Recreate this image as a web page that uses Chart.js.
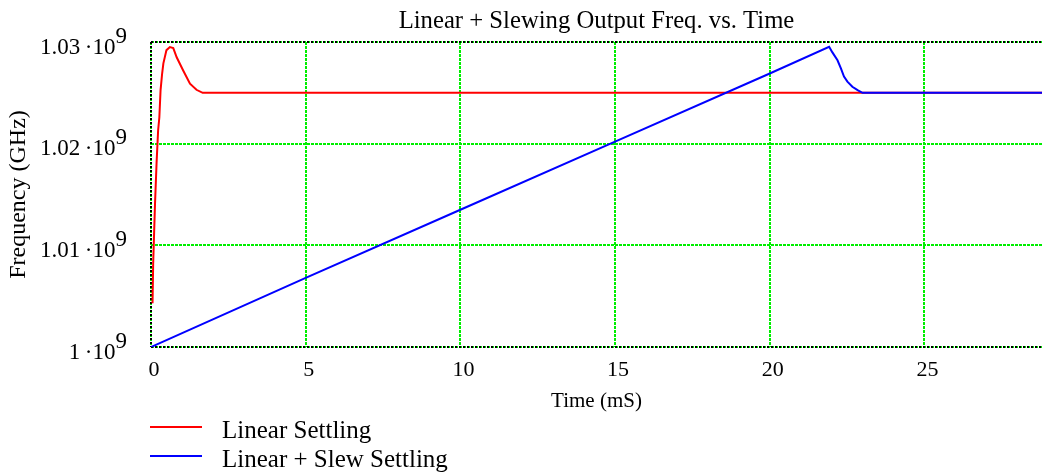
<!DOCTYPE html>
<html>
<head>
<meta charset="utf-8">
<script src="https://cdn.jsdelivr.net/npm/chart.js@4.4.1/dist/chart.umd.min.js"></script>
<style>
  html, body { margin: 0; padding: 0; background: #ffffff; }
  #wrap { width: 1042px; height: 474px; position: relative; }
</style>
</head>
<body>
<div id="wrap"><canvas id="c" width="1042" height="474"></canvas></div>
<script>
// Linear settling response: time (ms) and output frequency (Hz)
const timeLinear = [0.05, 0.07, 0.13, 0.18, 0.23, 0.27, 0.31, 0.36, 0.40, 0.50, 0.61, 0.72, 0.83, 1.04, 1.26, 1.47, 1.67, 28.8];
const freqLinear = [1.0043e9, 1.0082e9, 1.0141e9, 1.0181e9, 1.0213e9, 1.0226e9, 1.0253e9, 1.0269e9, 1.0279e9, 1.0292e9, 1.0295e9, 1.0294e9, 1.0285e9, 1.0272e9, 1.0259e9, 1.0253e9, 1.0250e9, 1.0250e9];

// Linear + slew settling response: time (ms) and output frequency (Hz)
const timeSlew = [0, 5, 10, 15, 20, 21.92, 22.02, 22.19, 22.30, 22.40, 22.51, 22.67, 22.84, 22.94, 23.0, 28.8];
const freqSlew = [1.0000e9, 1.0068e9, 1.0135e9, 1.0202e9, 1.0269e9, 1.02953e9, 1.0290e9, 1.0282e9, 1.0274e9, 1.0266e9, 1.0261e9, 1.0256e9, 1.02527e9, 1.0251e9, 1.0250e9, 1.0250e9];

// Axis ticks
const xTicks = [0, 5, 10, 15, 20, 25];
const yTicks = [1.00e9, 1.01e9, 1.02e9, 1.03e9];
const yTickMantissa = ['1', '1.01', '1.02', '1.03'];
const yTickExponent = '9';

// Texts
const seriesNames = ['Linear Settling', 'Linear + Slew Settling'];
const chartTitle = 'Linear + Slewing Output Freq. vs. Time';
const xTitle = 'Time (mS)';
const yTitle = 'Frequency (GHz)';

const SERIF = "'Liberation Serif', 'Times New Roman', Times, serif";
const GRID_GREEN = '#00ee00';

const toPoints = (xs, ys) => xs.map((x, i) => ({ x: x, y: ys[i] }));

// Title, y tick labels (with raised exponent), legend and dotted frame
const decorations = {
  id: 'decorations',
  beforeDatasetsDraw(chart) {
    const { ctx, chartArea: a } = chart;
    ctx.save();
    ctx.strokeStyle = '#000000';
    ctx.lineWidth = 2;
    ctx.setLineDash([2, 2]);
    ctx.beginPath();
    ctx.moveTo(a.left, a.top); ctx.lineTo(a.right, a.top);
    ctx.moveTo(a.left, a.top); ctx.lineTo(a.left, a.bottom);
    ctx.moveTo(a.left, a.bottom); ctx.lineTo(a.right, a.bottom);
    ctx.stroke();
    ctx.restore();
  },
  afterDraw(chart) {
    const { ctx, chartArea: a } = chart;
    ctx.save();
    ctx.fillStyle = '#000000';

    // chart title
    ctx.font = '24.7px ' + SERIF;
    ctx.textAlign = 'center';
    ctx.textBaseline = 'alphabetic';
    ctx.fillText(chartTitle, (a.left + a.right) / 2, 28);

    // y tick labels: mantissa·10 with exponent 9 raised
    const yScale = chart.scales.y;
    ctx.font = '23px ' + SERIF;
    ctx.textAlign = 'right';
    const rightEdge = 127;
    const expW = ctx.measureText(yTickExponent).width;
    yScale.ticks.forEach((t, i) => {
      const py = yScale.getPixelForValue(t.value);
      const idx = yTicks.indexOf(t.value);
      const mant = yTickMantissa[idx >= 0 ? idx : i];
      ctx.fillText(yTickExponent, rightEdge, py + 0.5);
      ctx.fillText(mant + '\u2009\u00B710', rightEdge - expW, py + 11.5);
    });

    // legend
    const ds = chart.data.datasets;
    const legendRows = [427, 456];
    ctx.font = '25px ' + SERIF;
    ctx.textAlign = 'left';
    ds.forEach((d, i) => {
      const y = legendRows[i];
      ctx.strokeStyle = d.borderColor;
      ctx.lineWidth = 2;
      ctx.beginPath();
      ctx.moveTo(150, y);
      ctx.lineTo(202, y);
      ctx.stroke();
      ctx.fillText(d.label, 222, y + 11);
    });
    ctx.restore();
  }
};

new Chart(document.getElementById('c'), {
  type: 'line',
  data: {
    datasets: [
      {
        label: seriesNames[0],
        data: toPoints(timeLinear, freqLinear),
        borderColor: '#ff0000',
        borderWidth: 2,
        pointRadius: 0,
        tension: 0,
        fill: false,
        order: 2
      },
      {
        label: seriesNames[1],
        data: toPoints(timeSlew, freqSlew),
        borderColor: '#0000ff',
        borderWidth: 2,
        pointRadius: 0,
        tension: 0,
        fill: false,
        order: 1
      }
    ]
  },
  options: {
    responsive: false,
    animation: false,
    devicePixelRatio: 1,
    layout: { padding: { top: 42, right: 0, bottom: 0, left: 0 } },
    plugins: {
      legend: { display: false },
      title: { display: false },
      tooltip: { enabled: false }
    },
    scales: {
      x: {
        type: 'linear',
        min: 0,
        max: 28.8,
        afterBuildTicks: (s) => { s.ticks = xTicks.map(v => ({ value: v })); },
        afterFit: (s) => { s.height = 127; },
        grid: { color: GRID_GREEN, lineWidth: 2, drawTicks: false },
        border: { display: false, dash: [3, 1] },
        ticks: {
          color: '#000000',
          font: { family: SERIF, size: 22 },
          padding: 10,
          labelOffset: 3,
          maxRotation: 0,
          autoSkip: false
        },
        title: {
          display: true,
          text: xTitle,
          color: '#000000',
          font: { family: SERIF, size: 21 },
          padding: { top: 0, bottom: 60 }
        }
      },
      y: {
        type: 'linear',
        min: 1.00e9,
        max: 1.03e9,
        afterBuildTicks: (s) => { s.ticks = yTicks.map(v => ({ value: v })); },
        afterFit: (s) => { s.width = 151; },
        grid: { color: GRID_GREEN, lineWidth: 2, drawTicks: false },
        border: { display: false, dash: [3, 1] },
        ticks: { display: false },
        title: {
          display: true,
          text: yTitle,
          color: '#000000',
          font: { family: SERIF, size: 24 },
          padding: { top: 4, bottom: 0 }
        }
      }
    }
  },
  plugins: [decorations]
});
</script>
</body>
</html>
